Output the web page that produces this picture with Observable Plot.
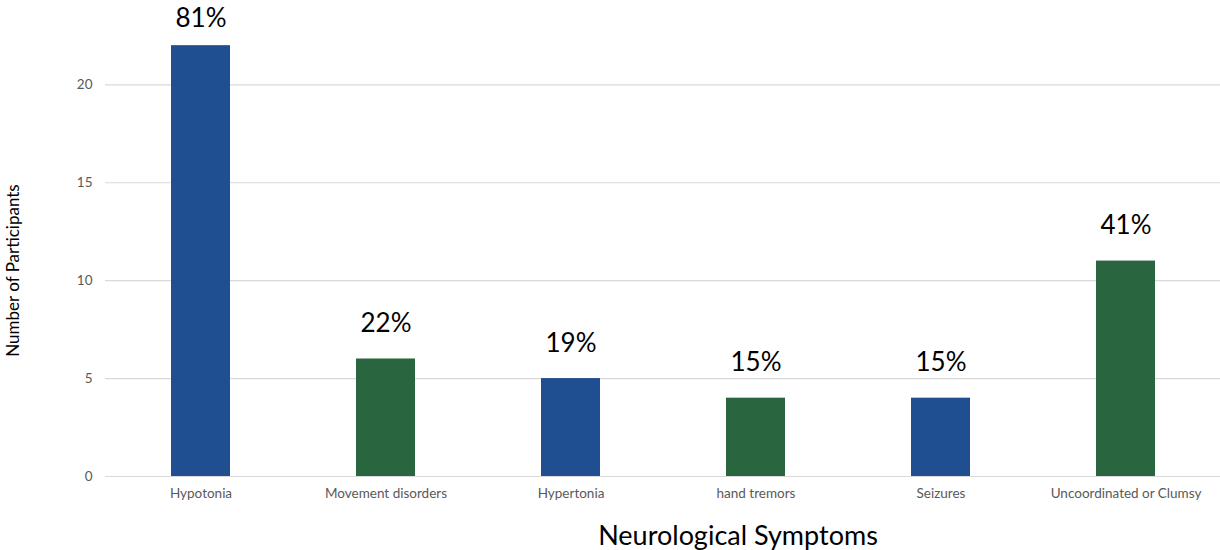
<!DOCTYPE html>
<html>
<head>
<meta charset="utf-8">
<script src="https://cdn.jsdelivr.net/npm/d3@7"></script>
<script src="https://cdn.jsdelivr.net/npm/@observablehq/plot@0.6"></script>
<style>
  html, body { margin: 0; padding: 0; background: #fff; }
  #chart svg { display: block; }
</style>
</head>
<body>
<div id="chart"></div>
<script>
const categories = ["Hypotonia", "Movement disorders", "Hypertonia", "hand tremors", "Seizures", "Uncoordinated or Clumsy"];
const counts = [22, 6, 5, 4, 4, 11];
const percentLabels = ["81%", "22%", "19%", "15%", "15%", "41%"];
const yTicks = [0, 5, 10, 15, 20];
const xTitle = "Neurological Symptoms";
const yTitle = "Number of Participants";

const data = categories.map((c, i) => ({category: c, count: counts[i], pct: percentLabels[i], idx: i}));
const font = "Lato, 'Open Sans', sans-serif";
const yMax = 24;

const chart = Plot.plot({
  width: 1220,
  height: 550,
  marginLeft: 105,
  marginRight: 0,
  marginTop: 6,
  marginBottom: 74,
  style: {fontFamily: font, background: "#fff"},
  x: {domain: categories, padding: 0, label: null},
  y: {domain: [0, yMax], label: null},
  color: {type: "ordinal", domain: [0, 1], range: ["#1F4E91", "#29663F"]},
  marks: [
    Plot.ruleY(yTicks, {stroke: "#d9d9d9", strokeWidth: 1.2}),
    Plot.rectY(data, {x: "category", y: "count", fill: d => d.idx % 2, insetLeft: 63, insetRight: 63}),
    // labels with room above the bar
    Plot.text(data.filter(d => d.count < 20), {x: "category", y: "count", text: "pct", dy: -35, lineAnchor: "middle", fontSize: 26, fill: "#000"}),
    // label for the tallest bar, kept inside the top edge
    Plot.text(data.filter(d => d.count >= 20), {x: "category", y: "count", text: "pct", dy: -27, lineAnchor: "middle", fontSize: 26, fill: "#000"}),
    Plot.axisY({ticks: yTicks, tickSize: 0, tickPadding: 13, fontSize: 13.5, color: "#595959", label: null}),
    Plot.axisX({tickSize: 0, tickPadding: 12, fontSize: 13.5, color: "#595959", label: null}),
    Plot.text([xTitle], {frameAnchor: "bottom", dx: 75, dy: 60, lineAnchor: "middle", fontSize: 27, fill: "#000"}),
    Plot.text([yTitle], {frameAnchor: "left", textAnchor: "middle", dx: -92, dy: 29, rotate: -90, lineAnchor: "middle", fontSize: 17, fill: "#000"})
  ]
});
document.getElementById("chart").appendChild(chart);
</script>
</body>
</html>
